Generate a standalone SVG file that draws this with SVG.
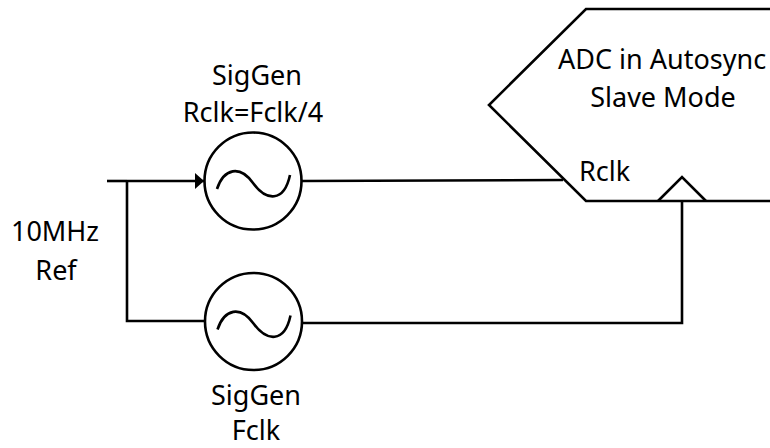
<svg xmlns="http://www.w3.org/2000/svg" width="770" height="448" viewBox="0 0 770 448">
<style>
.ln{fill:none;stroke:#000;stroke-width:2.6;stroke-linejoin:miter}
.sh{fill:#fff;stroke:#000;stroke-width:2.6}
.t{font-family:"Noto Sans","Open Sans",sans-serif;font-size:27px;fill:#000}
.c{text-anchor:middle}
</style>
<defs>
<marker id="arr" markerUnits="userSpaceOnUse" markerWidth="10" markerHeight="18" refX="9" refY="8" orient="auto">
<path d="M0,0 L9,8 L0,16 Z" fill="#000"/>
</marker>
<path id="wave" d="M-36,8 C-29,-13 -13,-16 0,2 C13,20 31,22 37,-6" fill="none" stroke="#000" stroke-width="2.6"/>
</defs>
<rect width="770" height="448" fill="#fff"/>
<g id="connectors">
<path class="ln" d="M107,181 L127,181"/>
<path class="ln" d="M127,181 L204,181" marker-end="url(#arr)"/>
<path class="ln" d="M127,181 L127,321 L205,321"/>
<path class="ln" d="M302,181 L563,180"/>
<path class="ln" d="M302,323 L682,323 L682,201"/>
</g>
<g id="adc">
<path class="ln" d="M775,9 L586,9 L489,105 L586,201 L775,201"/>
<path class="ln" d="M658,201 L682,177 L706,201"/>
<text class="t" x="558" y="69">ADC in Autosync</text>
<text class="t c" x="663" y="107">Slave Mode</text>
<text class="t" x="579" y="181">Rclk</text>
</g>
<g id="siggen-rclk">
<circle class="sh" cx="253" cy="181" r="48.5"/>
<use href="#wave" x="253" y="181"/>
<text class="t c" x="257" y="85">SigGen</text>
<text class="t c" x="253" y="122">Rclk=Fclk/4</text>
</g>
<g id="siggen-fclk">
<circle class="sh" cx="253.5" cy="321.5" r="48.5"/>
<use href="#wave" x="253.5" y="321.5"/>
<text class="t c" x="256" y="405">SigGen</text>
<text class="t c" x="256" y="440">Fclk</text>
</g>
<g id="ref">
<text class="t c" x="55" y="241">10MHz</text>
<text class="t c" x="56" y="280">Ref</text>
</g>
</svg>
